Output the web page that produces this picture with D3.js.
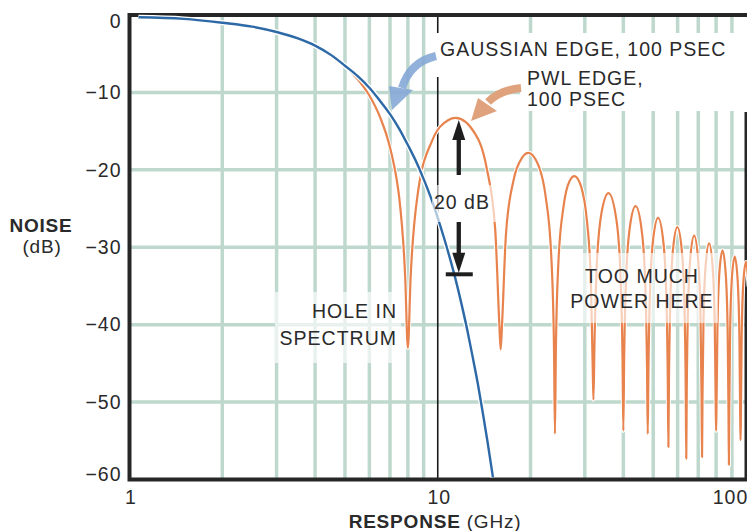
<!DOCTYPE html>
<html>
<head>
<meta charset="utf-8">
<script src="https://cdn.jsdelivr.net/npm/d3@7"></script>
<style>
  body { margin: 0; background: #fff; }
  svg { display: block; font-family: "Liberation Sans", Arial, Helvetica, sans-serif; }
</style>
</head>
<body>
<svg id="chart" width="747" height="531"></svg>
<script>
// tick values
const xTicks = [1, 10, 100];
const yTicks = [0, -10, -20, -30, -40, -50, -60];
const gridX = [2, 3, 4, 5, 6, 7, 8, 9, 20, 30, 40, 50, 60, 70, 80, 90];
const gridY = [-10, -20, -30, -40, -50];

// gaussian edge, 100 psec
const gaussFreq = [1.07, 1.5, 2, 2.5, 3, 3.5, 4, 4.5, 5, 5.5, 6, 6.5, 7, 7.5, 8, 8.5, 9, 9.5, 10,
                   10.5, 11, 11.5, 12, 12.5, 13, 13.5, 14, 14.5, 15.1];
const gaussDb = [-0.3, -0.5, -1.0, -1.5, -2.2, -3.0, -3.95, -5.15, -6.55, -7.9, -9.4, -11.1, -12.8, -14.7, -16.8, -18.9, -21.2, -23.6, -26.2,
                 -28.9, -31.7, -34.6, -37.7, -40.9, -44.3, -47.7, -51.4, -55.1, -59.7];

// pwl edge, 100 psec: main lobe then side lobes (null, sides, peak)
const pwlFreq = [1.07, 2, 3, 4, 5, 5.5, 6, 6.5, 7, 7.36, 7.5, 7.84, 8,
  8.16, 8.64, 9.6, 10.8, 11.44, 13.2, 14.4, 15.36, 15.84, 16,
  16.16, 16.64, 17.6, 18.8, 19.67, 21.2, 22.4, 23.36, 23.84, 24,
  24.16, 24.64, 25.6, 26.8, 27.77, 29.2, 30.4, 31.36, 31.84, 32,
  32.24, 32.8, 34, 35.82, 38, 39.2, 39.76, 40,
  40.24, 40.8, 42, 43.85, 46, 47.2, 47.76, 48,
  48.24, 48.8, 50, 51.88, 54, 55.2, 55.76, 56,
  56.24, 56.8, 58, 59.89, 62, 63.2, 63.76, 64,
  64.24, 64.8, 66, 67.9, 70, 71.2, 71.76, 72,
  72.24, 72.8, 74, 75.91, 78, 79.2, 79.76, 80,
  80.24, 80.8, 82, 83.92, 86, 87.2, 87.76, 88,
  88.24, 88.8, 90, 91.93, 94, 95.2, 95.76, 96,
  96.24, 96.8, 98, 99.94, 102];
const pwlDb = [-0.3, -1.05, -2.3, -4.05, -6.6, -8.3, -10.4, -13.2, -17.1, -21.3, -23.6, -33.8, -43.0,
  -34.2, -22.7, -16.2, -13.6, -13.3, -15.3, -19.7, -27.7, -39.9, -43.2,
  -40.1, -28.4, -21.4, -18.4, -17.8, -19.4, -23.5, -31.3, -43.5, -54.1,
  -43.6, -31.8, -24.7, -21.4, -20.8, -22.2, -26.2, -33.9, -46.0, -49.7,
  -42.6, -32.4, -25.5, -23.0, -26.5, -34.0, -44.4, -53.7,
  -44.5, -34.3, -27.4, -24.7, -28.2, -35.6, -46.0, -54.1,
  -46.1, -35.9, -28.9, -26.2, -29.5, -36.9, -47.3, -55.8,
  -47.4, -37.2, -30.2, -27.4, -30.7, -38.1, -48.5, -57.3,
  -48.6, -38.3, -31.3, -28.5, -31.8, -39.1, -49.5, -57.1,
  -49.6, -39.3, -32.3, -29.5, -32.7, -40.1, -50.5, -53.7,
  -50.5, -40.2, -33.2, -30.4, -33.6, -40.9, -51.3, -58.1,
  -51.3, -41.1, -34.0, -31.2, -34.4, -41.7, -52.0, -54.9,
  -52.1, -41.8, -34.7, -31.9, -35.1];

const gauss = gaussFreq.map((f, i) => ({ f: f, db: gaussDb[i] }));
const pwl = pwlFreq.map((f, i) => ({ f: f, db: pwlDb[i] }));

const svg = d3.select("#chart");
const x = d3.scaleLog().domain([1, 100]).range([129.5, 746]);
const y = d3.scaleLinear().domain([0, -60]).range([15, 479.5]);

const gridColor = "#bfd8cd";
const ink = "#2a2a2a";

// grid
svg.append("g").selectAll("line").data(gridX).enter().append("line")
    .attr("x1", d => x(d)).attr("x2", d => x(d))
    .attr("y1", y(0)).attr("y2", y(-60))
    .attr("stroke", gridColor).attr("stroke-width", 3.5);
svg.append("g").selectAll("line").data(gridY).enter().append("line")
    .attr("x1", x(1)).attr("x2", x(100))
    .attr("y1", d => y(d)).attr("y2", d => y(d))
    .attr("stroke", gridColor).attr("stroke-width", 3.5);

// 10 GHz marker line
svg.append("line")
    .attr("x1", x(10)).attr("x2", x(10))
    .attr("y1", y(0)).attr("y2", y(-60))
    .attr("stroke", "#1a1a1a").attr("stroke-width", 1.6);

// frame
const frame = svg.append("g").attr("stroke", "#262626").attr("stroke-width", 4).attr("fill", "none");
frame.append("path").attr("d", `M${x(100) + 2},${y(0)}H${x(1)}V${y(-60)}H${x(100) + 2}`);
frame.append("line").attr("x1", x(100) + 0.5).attr("x2", x(100) + 0.5).attr("y1", 112).attr("y2", y(-60));

// curves
const line = d3.line().x(d => x(d.f)).y(d => y(d.db)).curve(d3.curveMonotoneX);

svg.append("path").datum(pwl).attr("d", line)
    .attr("fill", "none").attr("stroke", "#fff").attr("stroke-width", 4);
svg.append("path").datum(pwl).attr("d", line)
    .attr("fill", "none").attr("stroke", "#e8834e").attr("stroke-width", 2.2)
    .attr("stroke-linejoin", "round");

svg.append("path").datum(gauss).attr("d", line)
    .attr("fill", "none").attr("stroke", "#fff").attr("stroke-width", 5);
svg.append("path").datum(gauss).attr("d", line)
    .attr("fill", "none").attr("stroke", "#2d69a6").attr("stroke-width", 2.4)
    .attr("stroke-linejoin", "round");

// label backgrounds
const boxes = [
    { x: 436, y: 33, w: 311, h: 44, o: 1 },
    { x: 520, y: 77, w: 227, h: 34, o: 1 },
    { x: 275, y: 292, w: 126, h: 71, o: 0.65 },
    { x: 566, y: 253, w: 152, h: 70, o: 0.62 },
    { x: 432, y: 185, w: 65, h: 37, o: 0.62 }
];
svg.append("g").selectAll("rect").data(boxes).enter().append("rect")
    .attr("x", d => d.x).attr("y", d => d.y)
    .attr("width", d => d.w).attr("height", d => d.h)
    .attr("fill", "#fff").attr("fill-opacity", d => d.o);

// 20 dB dimension arrows
const xa = x(11.7), yTop = y(-13.3), yBot = y(-33.3);
const dim = svg.append("g").attr("fill", "#1e1e1e").attr("stroke", "#1e1e1e");
dim.append("line").attr("x1", xa).attr("x2", xa).attr("y1", 175).attr("y2", yTop + 18)
    .attr("stroke-width", 4.3);
dim.append("path").attr("stroke", "none")
    .attr("d", `M${xa},${yTop + 2}L${xa - 6.5},${yTop + 22}L${xa + 6.5},${yTop + 22}Z`);
dim.append("line").attr("x1", xa).attr("x2", xa).attr("y1", 222).attr("y2", yBot - 16)
    .attr("stroke-width", 4.3);
dim.append("path").attr("stroke", "none")
    .attr("d", `M${xa},${yBot}L${xa - 6.5},${yBot - 20}L${xa + 6.5},${yBot - 20}Z`);
dim.append("line").attr("x1", xa - 13).attr("x2", xa + 14).attr("y1", yBot + 1.5).attr("y2", yBot + 1.5)
    .attr("stroke-width", 4);

// pointer arrows
svg.append("path")
    .attr("d", "M436,56 Q410,62 402,88")
    .attr("fill", "none").attr("stroke", "#85a8d6").attr("stroke-opacity", 0.9)
    .attr("stroke-width", 8);
svg.append("path")
    .attr("d", "M392,110 L389,86 L413,90 Z")
    .attr("fill", "#85a8d6").attr("fill-opacity", 0.9);

svg.append("path")
    .attr("d", "M521,88 Q500,90 488,102")
    .attr("fill", "none").attr("stroke", "#dfa27d").attr("stroke-width", 8);
svg.append("path")
    .attr("d", "M471,121 L478,98 L497,111 Z")
    .attr("fill", "#dfa27d");

// annotation text
const labels = [
    { t: "GAUSSIAN EDGE, 100 PSEC", x: 440, y: 56, a: "start" },
    { t: "PWL EDGE,", x: 527, y: 85, a: "start" },
    { t: "100 PSEC", x: 527, y: 106, a: "start" },
    { t: "HOLE IN", x: 397, y: 318, a: "end" },
    { t: "SPECTRUM", x: 397, y: 345, a: "end" },
    { t: "TOO MUCH", x: 642, y: 283, a: "middle" },
    { t: "POWER HERE", x: 642, y: 308, a: "middle" },
    { t: "20 dB", x: 462, y: 209, a: "middle" }
];
svg.append("g").selectAll("text").data(labels).enter().append("text")
    .attr("x", d => d.x).attr("y", d => d.y)
    .attr("text-anchor", d => d.a)
    .attr("font-size", 19.5).attr("letter-spacing", 1)
    .attr("fill", ink)
    .text(d => d.t);

// axes
const yAxis = svg.append("g")
    .attr("transform", `translate(${x(1)},0)`)
    .call(d3.axisLeft(y).tickValues(yTicks).tickSize(0).tickPadding(8));
yAxis.select(".domain").remove();
yAxis.selectAll("text").attr("font-size", 19.5).attr("letter-spacing", 1)
    .attr("fill", ink).attr("font-family", null)
    .attr("dy", d => d === 0 ? "0.63em" : d === -60 ? "0.05em" : "0.32em");

const xAxis = svg.append("g")
    .attr("transform", `translate(0,${y(-60)})`)
    .call(d3.axisBottom(x).tickValues(xTicks).tickFormat(d3.format("d")).tickSize(0).tickPadding(11));
xAxis.select(".domain").remove();
xAxis.selectAll("text").attr("font-size", 19.5).attr("letter-spacing", 1)
    .attr("fill", ink).attr("font-family", null)
    .attr("x", d => d === 100 ? -16 : 1);

// axis titles
svg.append("text").attr("x", 41).attr("y", 232).attr("text-anchor", "middle")
    .attr("font-size", 19).attr("font-weight", "bold").attr("letter-spacing", 0.8)
    .attr("fill", ink).text("NOISE");
svg.append("text").attr("x", 42).attr("y", 253).attr("text-anchor", "middle")
    .attr("font-size", 19).attr("letter-spacing", 0.8)
    .attr("fill", ink).text("(dB)");

const xt = svg.append("text").attr("x", 435).attr("y", 528).attr("text-anchor", "middle")
    .attr("font-size", 19).attr("letter-spacing", 0.8).attr("fill", ink);
xt.append("tspan").attr("font-weight", "bold").text("RESPONSE");
xt.append("tspan").text(" (GHz)");
</script>
</body>
</html>
